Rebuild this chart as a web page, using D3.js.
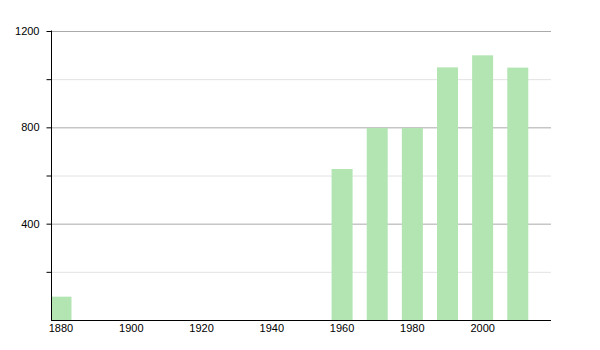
<!DOCTYPE html>
<html><head><meta charset="utf-8">
<script src="https://cdn.jsdelivr.net/npm/d3@7"></script>
<style>body{margin:0;background:#fff;} text{font-family:"Liberation Sans",Arial,sans-serif;font-size:11px;fill:#000;}</style>
</head><body>
<svg id="c" width="600" height="350"></svg>
<script>
const years = [1880, 1960, 1970, 1980, 1990, 2000, 2010];
const values = [97, 627, 797, 797, 1049, 1099, 1048];
const xTicks = [1880, 1900, 1920, 1940, 1960, 1980, 2000];
const yMajor = [400, 800, 1200];
const yMinor = [200, 600, 1000];

const svg = d3.select("#c");
const x = d3.scaleLinear().domain([1877.3, 2019.6]).range([51, 551]);
const y = d3.scaleLinear().domain([0, 1200]).range([320, 31]);
const bw = 21;

// minor gridlines
svg.append("g").selectAll("line").data(yMinor).join("line")
  .attr("x1", 51).attr("x2", 551).attr("y1", d => y(d)+0.5).attr("y2", d => y(d)+0.5)
  .attr("stroke", "#e2e2e2").attr("stroke-width", 1);
// major gridlines
svg.append("g").selectAll("line").data(yMajor).join("line")
  .attr("x1", 51).attr("x2", 551).attr("y1", d => y(d)+0.5).attr("y2", d => y(d)+0.5)
  .attr("stroke", "#aaaaaa").attr("stroke-width", 1);

// bars
svg.append("g").selectAll("rect").data(years).join("rect")
  .attr("x", d => Math.max(51, x(d) - bw/2 + 0.5))
  .attr("width", (d) => (x(d) - bw/2 + 0.5 < 51) ? (x(d) + bw/2 + 0.5 - 51) : bw)
  .attr("y", (d,i) => y(values[i]))
  .attr("height", (d,i) => 320 - y(values[i]))
  .attr("fill", "#b3e5b3");

// y axis
const yAxis = d3.axisLeft(y).tickValues(yMajor.concat(yMinor)).tickSize(5)
  .tickFormat(d => yMajor.includes(d) ? d : "");
const gy = svg.append("g").attr("transform", "translate(51.5,0)").call(yAxis);
gy.select(".domain").remove();
gy.selectAll(".tick line").attr("stroke", "#000");
gy.selectAll(".tick text").attr("x", -12).style("font-size", "11px").style("font-family", '"Liberation Sans",Arial,sans-serif');
svg.append("line").attr("x1", 51.5).attr("x2", 51.5).attr("y1", 30.5).attr("y2", 320.5).attr("stroke", "#000");

// x axis
const xAxis = d3.axisBottom(x).tickValues(xTicks).tickSize(0).tickFormat(d3.format("d"));
const gx = svg.append("g").attr("transform", "translate(0,320.5)").call(xAxis);
gx.select(".domain").remove();
gx.selectAll(".tick text").attr("y", 4).style("font-size", "11px").style("font-family", '"Liberation Sans",Arial,sans-serif');
svg.append("line").attr("x1", 51).attr("x2", 551).attr("y1", 320.5).attr("y2", 320.5).attr("stroke", "#000");
</script>
</body></html>
